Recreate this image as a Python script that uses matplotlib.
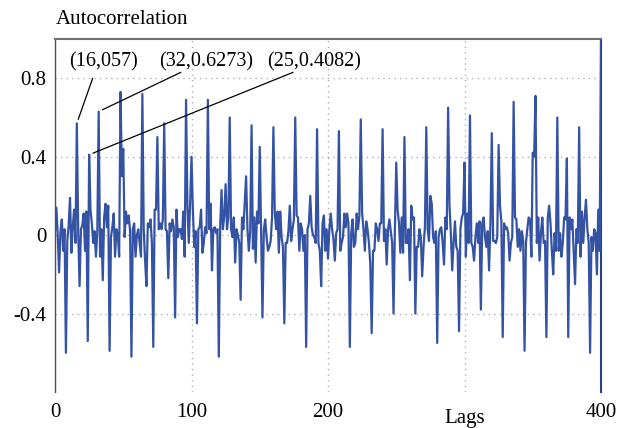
import numpy as np
import matplotlib
matplotlib.use("Agg")
import matplotlib.pyplot as plt

# autocorrelation values, lag 0 .. 400
acf_000 = [0.02, 0.14, 0.00, -0.19, 0.02, 0.08, -0.08, 0.03, -0.60, -0.03,
           0.05, 0.19, -0.09, 0.04, 0.13, -0.04, 0.57, 0.02, -0.26, 0.03,
           0.05, 0.11, -0.08, 0.12, -0.54, 0.41, 0.13, 0.06, -0.04, 0.02,
           -0.11, 0.02, 0.63, -0.11, 0.03, -0.23, 0.09, 0.16, 0.04, 0.15,
           -0.59, -0.01, 0.04, 0.11, -0.11, 0.03, 0.00, -0.11, 0.73, 0.30]
acf_050 = [0.44, -0.01, 0.12, 0.06, 0.10, 0.02, -0.62, 0.03, 0.06, -0.11,
           0.00, 0.03, -0.04, -0.11, 0.72, 0.03, -0.13, -0.26, 0.06, 0.04,
           0.08, -0.04, -0.57, 0.13, 0.13, 0.50, 0.03, 0.06, 0.03, 0.08,
           0.57, 0.03, 0.02, -0.22, 0.06, 0.02, 0.08, 0.04, -0.42, 0.13,
           -0.01, 0.03, 0.03, -0.02, 0.12, -0.11, 0.69, 0.16, -0.04, 0.16]
acf_100 = [0.40, 0.13, -0.06, 0.02, -0.45, 0.03, 0.04, 0.13, -0.09, -0.04,
           0.04, 0.01, 0.69, 0.03, 0.16, -0.18, 0.03, 0.04, 0.01, 0.03,
           -0.62, 0.04, 0.23, 0.03, 0.10, 0.26, 0.03, 0.09, 0.60, 0.03,
           -0.01, 0.09, -0.14, 0.03, 0.00, -0.04, -0.33, 0.09, 0.03, 0.16,
           0.30, 0.03, -0.08, 0.02, 0.56, -0.07, 0.09, -0.14, 0.12, 0.06]
acf_150 = [0.45, 0.03, -0.42, 0.03, 0.08, -0.01, -0.08, -0.06, -0.03, 0.09,
           0.55, 0.12, 0.03, 0.12, -0.09, 0.12, -0.01, -0.06, -0.45, -0.04,
           -0.04, 0.02, 0.15, -0.03, 0.03, 0.08, 0.60, 0.10, 0.09, -0.08,
           0.06, 0.03, -0.08, 0.00, -0.57, 0.03, 0.06, 0.20, 0.04, 0.00,
           -0.01, -0.04, 0.54, -0.04, -0.08, -0.26, 0.06, 0.10, -0.08, 0.03]
acf_200 = [-0.12, 0.03, 0.11, 0.03, -0.02, -0.13, 0.01, 0.03, 0.53, -0.08,
           -0.04, -0.01, 0.11, 0.04, 0.11, 0.06, -0.57, 0.01, 0.08, -0.06,
           -0.04, 0.11, 0.03, 0.10, 0.59, 0.11, 0.03, -0.08, 0.07, 0.03,
           -0.04, -0.15, -0.50, -0.08, -0.08, 0.06, 0.03, -0.03, 0.06, 0.06,
           0.54, -0.03, 0.03, -0.15, 0.03, 0.08, 0.02, -0.04, -0.40, 0.03]
acf_250 = [0.37, 0.13, 0.06, -0.09, 0.09, -0.09, 0.50, -0.04, -0.04, 0.03,
           -0.23, 0.15, 0.08, 0.09, -0.40, -0.06, -0.06, 0.03, -0.01, -0.21,
           -0.06, 0.04, 0.55, 0.03, -0.03, 0.20, 0.16, -0.01, -0.04, 0.02,
           -0.55, -0.01, 0.03, 0.04, -0.04, -0.15, 0.09, 0.03, 0.65, 0.15,
           0.01, -0.18, -0.04, 0.07, -0.06, -0.08, -0.49, 0.03, 0.09, 0.11]
acf_300 = [0.37, -0.11, 0.11, -0.04, 0.61, -0.04, -0.06, -0.13, -0.01, 0.06,
           -0.04, 0.07, -0.38, 0.06, 0.09, -0.01, -0.06, 0.02, -0.18, 0.06,
           0.52, -0.03, -0.03, -0.04, -0.01, 0.46, 0.15, 0.07, -0.52, 0.06,
           0.03, 0.04, 0.01, -0.13, -0.04, -0.01, 0.68, 0.09, 0.08, -0.06,
           0.03, -0.08, 0.02, -0.03, -0.59, -0.04, 0.03, 0.09, 0.08, -0.11]
acf_350 = [0.42, 0.40, 0.71, -0.04, 0.09, -0.13, 0.01, 0.09, -0.04, -0.03,
           -0.52, 0.09, 0.15, 0.06, -0.08, -0.20, 0.01, -0.08, 0.60, -0.08,
           0.01, -0.11, -0.04, 0.09, 0.08, 0.39, -0.52, 0.09, 0.03, 0.08,
           -0.08, -0.25, 0.03, -0.04, 0.55, -0.11, 0.12, -0.04, 0.09, 0.18,
           0.03, -0.04, -0.60, -0.01, -0.08, 0.03, 0.01, -0.20, 0.13, -0.08,
           1.0]

acf = np.array(acf_000 + acf_050 + acf_100 + acf_150 + acf_200
               + acf_250 + acf_300 + acf_350)
lags = np.arange(len(acf))

# marked peaks: (lag, label, label position, leader end near label)
peak_lags = [16, 32, 25]
peak_labels = ['(16,057)', '(32,0.6273)', '(25,0.4082)']
label_pos = [(10.0, 0.885), (76.0, 0.885), (155.5, 0.885)]
leader_end = [(27.6, 0.80), (92.2, 0.83), (174.4, 0.83)]

xticks = [0, 100, 200, 300, 400]
xticklabels = ['0', '100', '200', '', '400']
yticks = [-0.4, 0, 0.4, 0.8]
yticklabels = ['-0.4', '0', '0.4', '0.8']

plt.rcParams['font.family'] = ['Liberation Serif', 'DejaVu Serif']
plt.rcParams['font.size'] = 15

fig = plt.figure(figsize=(6.28, 4.28), dpi=100)
ax = fig.add_axes([55 / 628, 1 - 392 / 428, 546 / 628, 353 / 428])

ax.plot(lags, acf, color='#3553a5', lw=1.6, zorder=3)

ax.set_xlim(0, 400)
ax.set_ylim(-0.8, 1.0)
ax.set_xticks(xticks)
ax.set_xticklabels(xticklabels)
ax.set_yticks(yticks)
ax.set_yticklabels(yticklabels)
ax.tick_params(axis='both', length=0)
ax.tick_params(axis='x', pad=8)
ax.tick_params(axis='y', pad=6)

ax.grid(True, color='#b0b0b0', linestyle=(0, (1, 3)), lw=1.0)

ax.spines['top'].set_color('#707070')
ax.spines['top'].set_linewidth(1.5)
ax.spines['left'].set_color('#505050')
ax.spines['left'].set_linewidth(1.0)
ax.spines['right'].set_color('#2c3f80')
ax.spines['right'].set_linewidth(1.5)
ax.spines['bottom'].set_visible(False)

for lag, lab, pos, end in zip(peak_lags, peak_labels, label_pos, leader_end):
    ax.text(pos[0], pos[1], lab, ha='left', va='center', fontsize=14.5)
    ax.annotate('', xy=(lag, acf[lag]), xytext=end,
                arrowprops=dict(arrowstyle='-', color='black', lw=0.9,
                                shrinkA=0, shrinkB=3))

fig.text(56 / 628, 1 - 19 / 428, 'Autocorrelation', ha='left', va='center')
ax.annotate('Lags', xy=(300, 0), xycoords=('data', 'axes fraction'),
            xytext=(0, -19), textcoords='offset points', ha='center', va='center')

fig.savefig('out.png', dpi=100)
